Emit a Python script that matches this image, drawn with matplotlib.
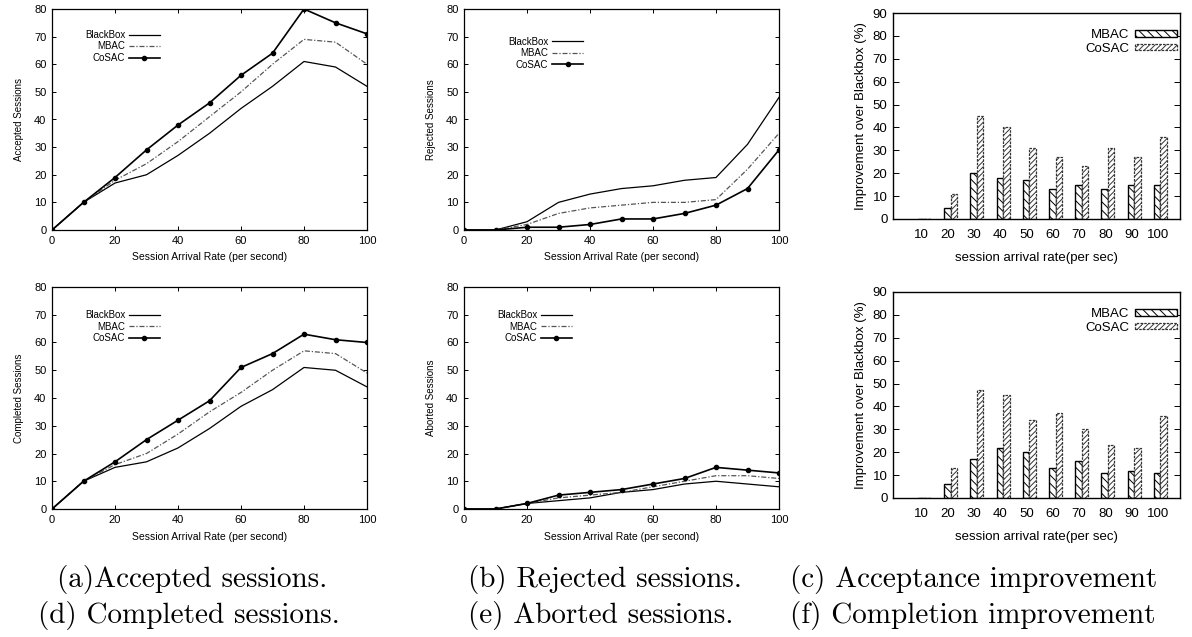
import matplotlib
matplotlib.use("Agg")
import matplotlib.pyplot as plt

plt.rcParams["font.family"] = ["Liberation Sans", "DejaVu Sans"]
plt.rcParams["hatch.linewidth"] = 0.7

# ---- data ----
rate = [0, 10, 20, 30, 40, 50, 60, 70, 80, 90, 100]

acc_blackbox = [0, 10, 17, 20, 27, 35, 44, 52, 61, 59, 52]
acc_mbac = [0, 10, 18, 24, 32, 41, 50, 60, 69, 68, 60]
acc_cosac = [0, 10, 19, 29, 38, 46, 56, 64, 80, 75, 71]

rej_blackbox = [0, 0, 3, 10, 13, 15, 16, 18, 19, 31, 48]
rej_mbac = [0, 0, 2, 6, 8, 9, 10, 10, 11, 22, 35]
rej_cosac = [0, 0, 1, 1, 2, 4, 4, 6, 9, 15, 29]

comp_blackbox = [0, 10, 15, 17, 22, 29, 37, 43, 51, 50, 44]
comp_mbac = [0, 10, 16, 20, 27, 35, 42, 50, 57, 56, 49]
comp_cosac = [0, 10, 17, 25, 32, 39, 51, 56, 63, 61, 60]

abo_blackbox = [0, 0, 2, 3, 4, 6, 7, 9, 10, 9, 8]
abo_mbac = [0, 0, 2, 4, 5, 6, 8, 10, 12, 12, 11]
abo_cosac = [0, 0, 2, 5, 6, 7, 9, 11, 15, 14, 13]

bar_cats = ["10", "20", "30", "40", "50", "60", "70", "80", "90", "100"]
accimp_mbac = [0, 5, 20, 18, 17, 13, 15, 13, 15, 15]
accimp_cosac = [0, 11, 45, 40, 31, 27, 23, 31, 27, 36]
compimp_mbac = [0, 6, 17, 22, 20, 13, 16, 11, 12, 11]
compimp_cosac = [0, 13, 47, 45, 34, 37, 30, 23, 22, 36]

W, H = 1192, 637
fig = plt.figure(figsize=(W / 100, H / 100), dpi=100)


def box(l, t, r, b):
    return [l / W, 1 - b / H, (r - l) / W, (b - t) / H]


def line_panel(rect, bb, mb, co, ylabel, leg_xy):
    ax = fig.add_axes(box(*rect))
    ax.plot(rate, bb, color="black", lw=0.9, label="BlackBox")
    ax.plot(rate, mb, color="#555555", lw=0.9, dashes=(4, 1.5, 1, 1.5), label="MBAC")
    ax.plot(rate, co, color="black", lw=1.2, marker="o", ms=3, label="CoSAC")
    ax.set_xlim(0, 100)
    ax.set_ylim(0, 80)
    ax.set_xticks(range(0, 101, 20))
    ax.set_yticks(range(0, 81, 10))
    ax.tick_params(direction="in", top=True, right=True, length=3, width=0.7,
                   labelsize=8, pad=4)
    for s in ax.spines.values():
        s.set_linewidth(0.9)
    ax.set_xlabel("Session Arrival Rate (per second)", fontsize=7.5, labelpad=5)
    ax.set_ylabel(ylabel, fontsize=7, labelpad=7)
    ax.legend(loc="upper right", bbox_to_anchor=leg_xy, frameon=False,
              markerfirst=False, fontsize=7, handlelength=3.2, handletextpad=0.4,
              labelspacing=0.15, borderpad=0, borderaxespad=0)
    return ax


def bar_panel(rect, mb, co):
    ax = fig.add_axes(box(*rect))
    pos = list(range(len(bar_cats)))
    w = 0.25
    xm = [p - 0.15 + w / 2 for p in pos]
    xc = [p + 0.10 + w / 2 for p in pos]
    ax.bar(xm, mb, width=w, color="white", edgecolor="black", hatch="\\\\\\\\",
           linewidth=1.0, label="MBAC")
    ax.bar(xc, co, width=w, color="white", edgecolor="#333333", hatch="//////",
           linewidth=0.9, linestyle=(0, (2, 1)), label="CoSAC")
    ax.set_xlim(-1.1, 9.85)
    ax.set_ylim(0, 90)
    ax.set_xticks(pos)
    ax.set_xticklabels(bar_cats)
    ax.set_yticks(range(0, 91, 10))
    ax.tick_params(direction="in", right=True, length=4, width=0.7,
                   labelsize=9.5, pad=4)
    ax.tick_params(axis="x", length=0, pad=7)
    for s in ax.spines.values():
        s.set_linewidth(1.0)
    ax.set_xlabel("session arrival rate(per sec)", fontsize=9.5, labelpad=8)
    ax.set_ylabel("Improvement over Blackbox (%)", fontsize=9.5, labelpad=4)
    ax.legend(loc="upper right", bbox_to_anchor=(0.99, 0.92), frameon=False,
              markerfirst=False, fontsize=9.5, handlelength=3.2, handleheight=0.4,
              handletextpad=0.4, labelspacing=0.1, borderpad=0, borderaxespad=0)
    return ax


line_panel((52, 9, 367, 230), acc_blackbox, acc_mbac, acc_cosac,
           "Accepted Sessions", (0.343, 0.905))
line_panel((464, 9, 779, 230), rej_blackbox, rej_mbac, rej_cosac,
           "Rejected Sessions", (0.378, 0.875))
line_panel((52, 287, 367, 509), comp_blackbox, comp_mbac, comp_cosac,
           "Completed Sessions", (0.343, 0.895))
line_panel((464, 287, 779, 509), abo_blackbox, abo_mbac, abo_cosac,
           "Aborted Sessions", (0.343, 0.895))
bar_panel((893, 13, 1180, 219), accimp_mbac, accimp_cosac)
bar_panel((893, 292, 1180, 498), compimp_mbac, compimp_cosac)

# captions
cap = dict(fontsize=21, family="cmr10", va="center", ha="left")
fig.text(57 / W, 1 - 580 / H, "(a)Accepted sessions.", **cap)
fig.text(468 / W, 1 - 580 / H, "(b) Rejected sessions.", **cap)
fig.text(790 / W, 1 - 580 / H, "(c) Acceptance improvement", **cap)
fig.text(38 / W, 1 - 616 / H, "(d) Completed sessions.", **cap)
fig.text(468 / W, 1 - 616 / H, "(e) Aborted sessions.", **cap)
fig.text(790 / W, 1 - 616 / H, "(f) Completion improvement", **cap)

fig.savefig("out.png", dpi=100)
